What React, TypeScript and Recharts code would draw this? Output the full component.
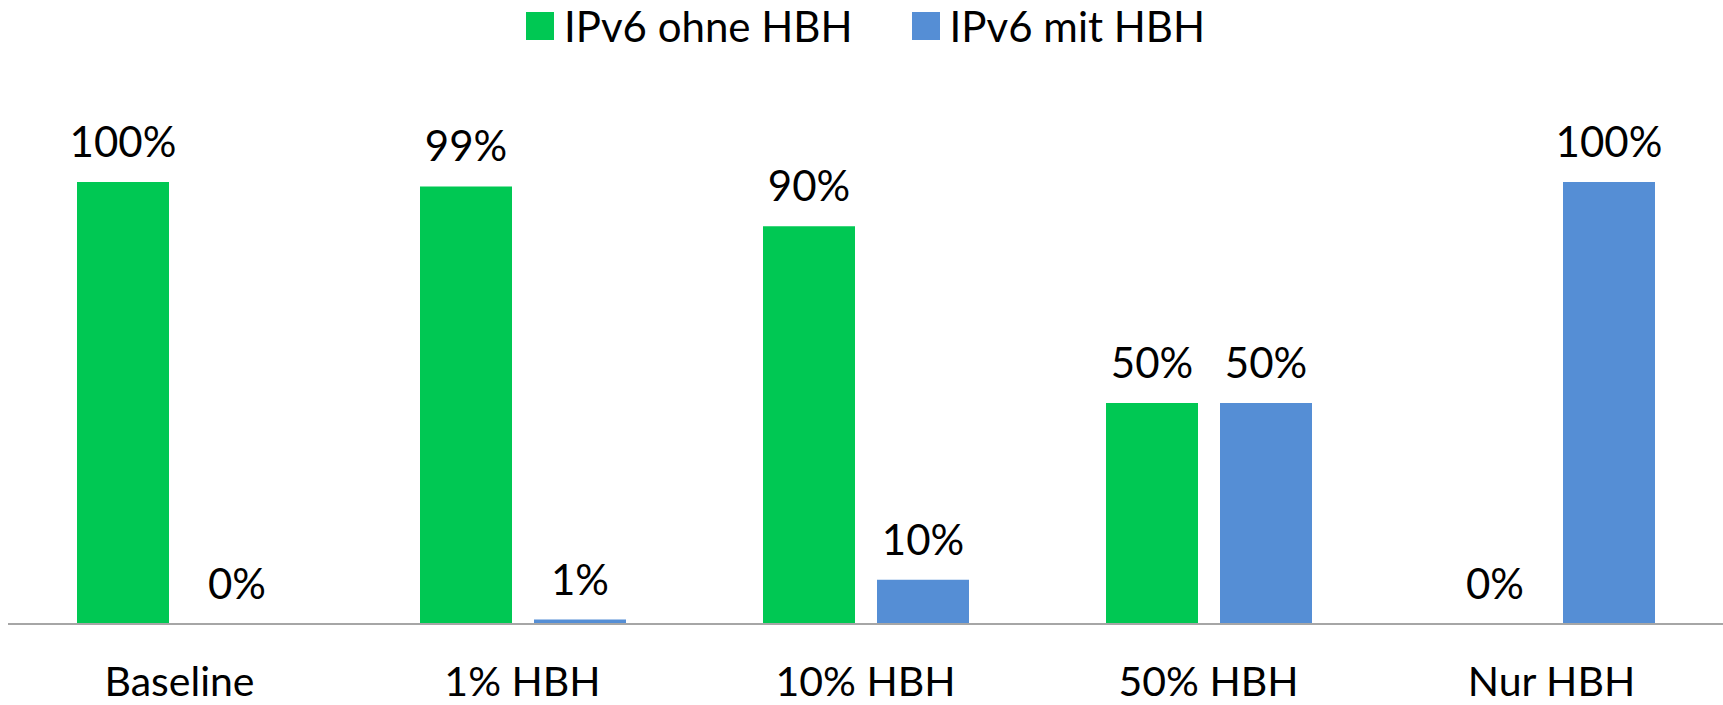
import React from 'react';
import { BarChart, Bar, XAxis, YAxis, Legend, LabelList } from 'recharts';

const categories = ['Baseline', '1% HBH', '10% HBH', '50% HBH', 'Nur HBH'];
const ohneHbh = [100, 99, 90, 50, 0];
const mitHbh = [0, 1, 10, 50, 100];

const seriesNames = ['IPv6 ohne HBH', 'IPv6 mit HBH'];
const seriesColors = ['#00C853', '#558ED5'];

const data = categories.map((name, i) => ({ name, ohne: ohneHbh[i], mit: mitHbh[i] }));

const FONT = 'Lato, "Open Sans", sans-serif';

const Tick = (props: any) => {
  const { x, y, payload } = props;
  return (
    <text x={x} y={y + 72} textAnchor="middle" fontFamily={FONT} fontSize={41} fill="#000">
      {payload.value}
    </text>
  );
};

const ValueLabel = (props: any) => {
  const { x, y, width, height, value } = props;
  return (
    <text x={x + width / 2} y={y + Math.min(0, height) - 25} textAnchor="middle" fontFamily={FONT} fontSize={42} fill="#000">
      {value}%
    </text>
  );
};

const LegendContent = () => (
  <div
    style={{
      display: 'flex',
      justifyContent: 'center',
      alignItems: 'center',
      paddingLeft: 8,
      fontFamily: FONT,
      fontSize: 42,
      color: '#000',
      lineHeight: '44px',
    }}
  >
    {seriesNames.map((n, i) => (
      <div key={n} style={{ display: 'flex', alignItems: 'center', marginLeft: i ? 59 : 0 }}>
        <span style={{ width: 28, height: 28, background: seriesColors[i], marginRight: 10, display: 'inline-block' }} />
        <span>{n}</span>
      </div>
    ))}
  </div>
);

export default function App() {
  return (
    <div style={{ position: 'absolute', left: 0, top: 0, background: '#fff' }}>
      <BarChart
        width={1723}
        height={705}
        data={data}
        margin={{ top: 182, right: 0, left: 8, bottom: 0 }}
        barSize={92}
        barGap={22}
      >
        <Legend
          layout="horizontal"
          verticalAlign="middle"
          align="center"
          content={<LegendContent />}
          wrapperStyle={{ top: 4, left: 0, width: 1723 }}
        />
        <XAxis
          dataKey="name"
          height={81}
          tickLine={false}
          tickSize={0}
          tickMargin={0}
          axisLine={{ stroke: '#a6a6a6', strokeWidth: 2 }}
          tick={<Tick />}
          interval={0}
        />
        <YAxis hide domain={[0, 100]} />
        <Bar dataKey="ohne" name={seriesNames[0]} fill={seriesColors[0]} minPointSize={0.01} isAnimationActive={false}>
          <LabelList dataKey="ohne" content={<ValueLabel />} />
        </Bar>
        <Bar dataKey="mit" name={seriesNames[1]} fill={seriesColors[1]} minPointSize={0.01} isAnimationActive={false}>
          <LabelList dataKey="mit" content={<ValueLabel />} />
        </Bar>
      </BarChart>
    </div>
  );
}
